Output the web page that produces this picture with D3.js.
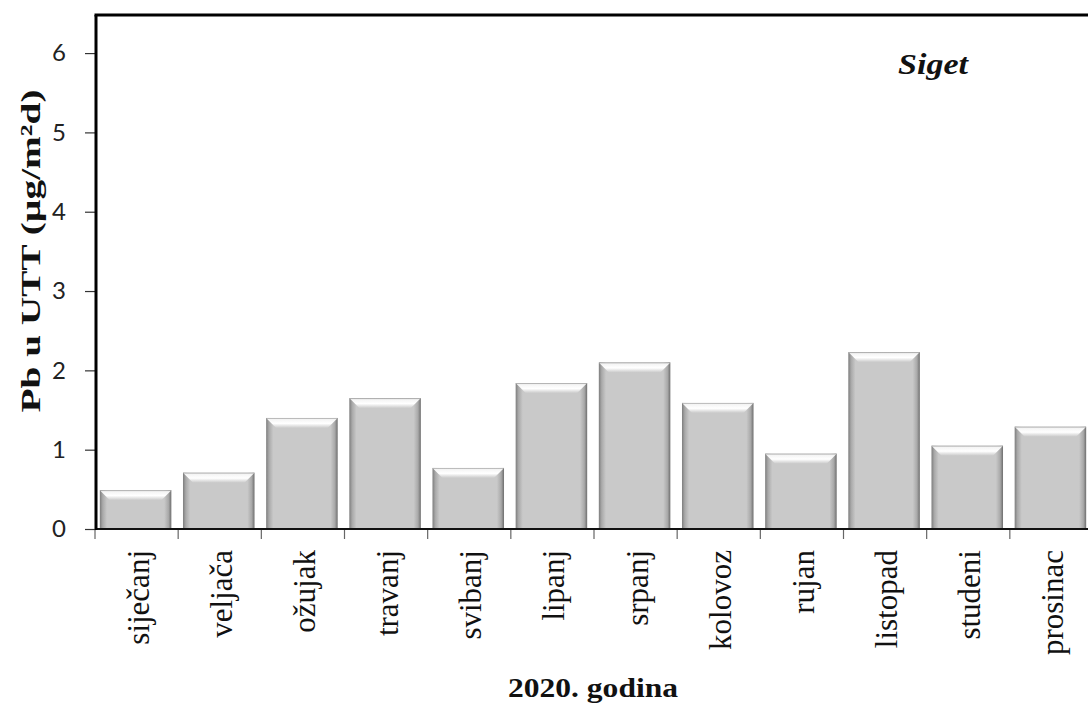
<!DOCTYPE html>
<html><head><meta charset="utf-8">
<script src="https://cdn.jsdelivr.net/npm/d3@7"></script>
<style>body{margin:0;background:#fff}svg{display:block}</style>
</head><body>
<script>
const months = ["siječanj","veljača","ožujak","travanj","svibanj","lipanj","srpanj","kolovoz","rujan","listopad","studeni","prosinac"];
const pbValues = [0.49,0.71,1.40,1.65,0.77,1.84,2.10,1.59,0.95,2.23,1.05,1.29];
const yTicks = [0,1,2,3,4,5,6];
const yTitle = "Pb u UTT (µg/m²d)";
const xTitle = "2020. godina";
const siteLabel = "Siget";

const W = 1088, H = 704;
const m = {left: 96, right: -6, top: 15, bottom: 175};
const serif = "'Liberation Serif', 'Times New Roman', serif";
const svg = d3.select("body").append("svg").attr("width", W).attr("height", H);
const x = d3.scaleBand().domain(months).range([m.left, W - m.right]).paddingInner(0.14).paddingOuter(0.07);
const y = d3.scaleLinear().domain([0, 6.48]).range([H - m.bottom, m.top]);

const defs = svg.append("defs");
const gh = defs.append("linearGradient").attr("id","gh").attr("x1","0").attr("x2","1").attr("y1","0").attr("y2","0");
[[0,"#7d7d7d"],[0.04,"#a9a9a9"],[0.1,"#c9c9c9"],[0.9,"#c9c9c9"],[0.96,"#a9a9a9"],[1,"#6e6e6e"]].forEach(([o,c])=>gh.append("stop").attr("offset",o).attr("stop-color",c));
const gv = defs.append("linearGradient").attr("id","gv").attr("x1","0").attr("x2","0").attr("y1","0").attr("y2","1");
[[0,"#9a9a9a"],[0.15,"#f4f4f4"],[0.55,"#ffffff"],[1,"#cacaca"]].forEach(([o,c])=>gv.append("stop").attr("offset",o).attr("stop-color",c));

const bars = svg.append("g").selectAll("g").data(months).join("g");
bars.append("rect")
  .attr("x", d => x(d) - 2).attr("width", x.bandwidth())
  .attr("y", (d,i) => y(pbValues[i])).attr("height", (d,i) => y(0) - y(pbValues[i]))
  .attr("fill", "url(#gh)");
bars.append("path")
  .attr("d", (d,i) => {
    const x0 = x(d) - 2, x1 = x0 + x.bandwidth(), t = y(pbValues[i]), b = 10;
    return `M${x0},${t}L${x1},${t}L${x1-b},${t+b}L${x0+b},${t+b}Z`;
  })
  .attr("fill", "url(#gv)");

// y axis
const yAxis = svg.append("g").attr("transform", `translate(${m.left},0)`)
  .call(d3.axisLeft(y).tickValues(yTicks).tickSize(11).tickPadding(19).tickFormat(d3.format("d")));
yAxis.select(".domain").remove();
yAxis.selectAll("line").attr("stroke","#333").attr("stroke-width",1.2);
yAxis.selectAll("text").attr("font-family","Lato, 'Open Sans', sans-serif").attr("font-size",24).attr("fill","#222");

// category boundary ticks
svg.append("g").selectAll("line").data(months).join("line")
  .attr("x1", d => x(d) - x.step()*x.paddingInner()/2 - 1).attr("x2", d => x(d) - x.step()*x.paddingInner()/2 - 1)
  .attr("y1", y(0)).attr("y2", y(0) + 10).attr("stroke","#666").attr("stroke-width",1.2);

svg.append("g").selectAll("text").data(months).join("text")
  .attr("transform", d => `translate(${x(d) + x.bandwidth()/2 + 11},${y(0) + 21}) rotate(-90)`)
  .attr("text-anchor","end")
  .attr("font-family", serif).attr("font-size",31).attr("fill","#111")
  .text(d => d);

// frame lines
svg.append("line").attr("x1", m.left).attr("x2", W).attr("y1", y(0)).attr("y2", y(0)).attr("stroke","#111").attr("stroke-width",2);
svg.append("line").attr("x1", m.left).attr("x2", m.left).attr("y1", m.top).attr("y2", y(0)+1).attr("stroke","#000").attr("stroke-width",3);
svg.append("line").attr("x1", m.left-1.5).attr("x2", W).attr("y1", m.top).attr("y2", m.top).attr("stroke","#000").attr("stroke-width",3);

svg.append("text").attr("transform", `translate(40,251) rotate(-90)`)
  .attr("text-anchor","middle").attr("font-family", serif)
  .attr("font-weight","bold").attr("font-size",28).attr("fill","#111")
  .attr("textLength",323).attr("lengthAdjust","spacingAndGlyphs").text(yTitle);

svg.append("text").attr("x", 593).attr("y", 697).attr("text-anchor","middle")
  .attr("font-family", serif).attr("font-weight","bold")
  .attr("font-size",28).attr("fill","#111")
  .attr("textLength",170).attr("lengthAdjust","spacingAndGlyphs").text(xTitle);

svg.append("text").attr("x", 933).attr("y", 74).attr("text-anchor","middle")
  .attr("font-family", serif).attr("font-weight","bold").attr("font-style","italic")
  .attr("font-size",29).attr("fill","#111")
  .attr("textLength",70).attr("lengthAdjust","spacingAndGlyphs").text(siteLabel);
</script>
</body></html>
